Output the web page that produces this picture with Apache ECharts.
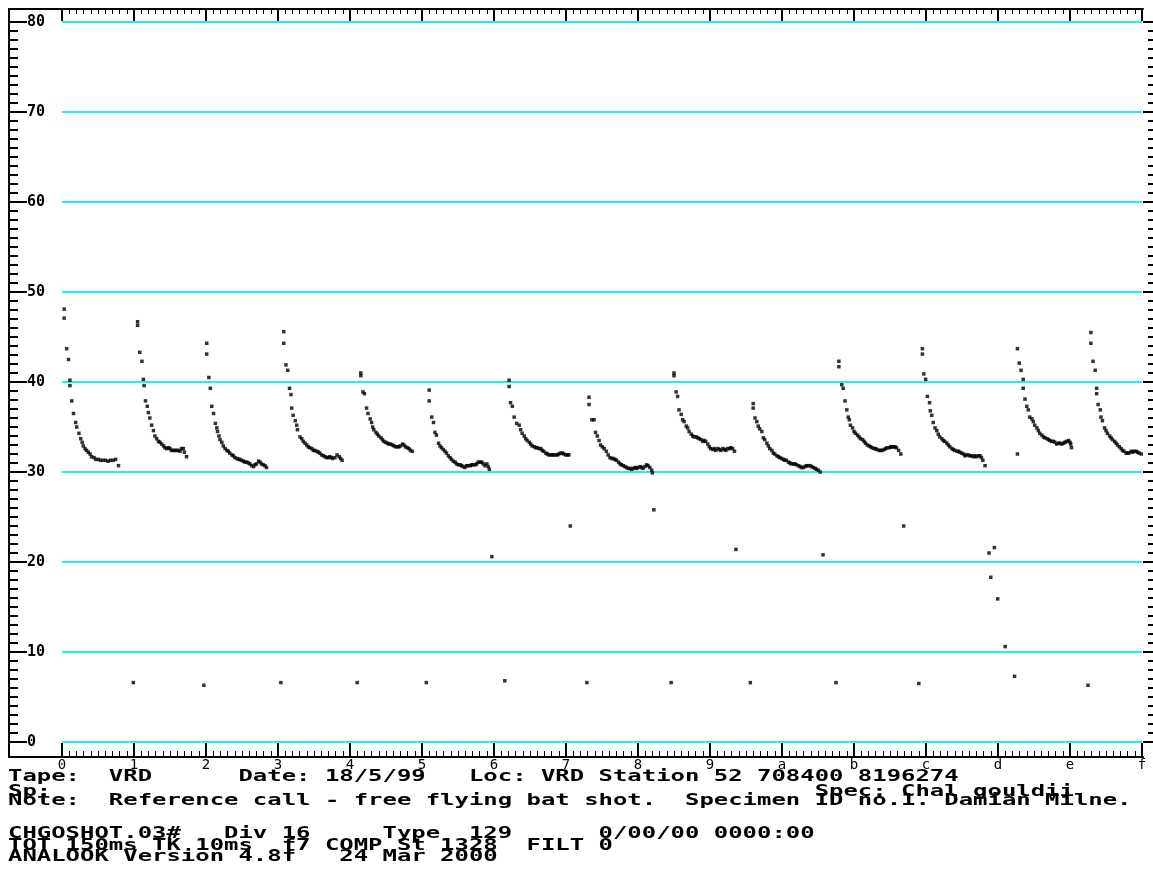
<!DOCTYPE html>
<html>
<head>
<meta charset="utf-8">
<title>ANALOOK - CHGOSHOT.03#</title>
<script src="https://cdn.jsdelivr.net/npm/echarts@6/dist/echarts.min.js"></script>
<style>
  html, body { margin: 0; padding: 0; background: #ffffff; }
  #chart { width: 1153px; height: 875px; }
</style>
</head>
<body>
<div id="chart"></div>
<script>
// Time ticks every 10 ms, labelled in hex (0..f); frequency ticks every 10 kHz.
const timeTickLabels = ['0','1','2','3','4','5','6','7','8','9','a','b','c','d','e','f'];
const freqTickLabels = ['0','10','20','30','40','50','60','70','80'];

// Call points: [time ms, frequency kHz]
const call01 = [[0.3,48.1],[0.3,47.1],[0.65,43.7],[0.9,42.5],[1.1,40.2],[1.1,39.6],[1.35,37.9],[1.6,36.5],[1.9,35.5],[2.05,35.0],[2.35,34.3],[2.6,33.7],[2.8,33.3],[2.95,32.9],[3.2,32.6],[3.4,32.4],[3.65,32.2],[3.9,32.0],[4.1,31.7],[4.45,31.6],[4.7,31.4],[5.05,31.4],[5.35,31.3],[5.7,31.3],[6.05,31.3],[6.4,31.2],[6.75,31.3],[7.1,31.3],[7.45,31.4],[7.85,30.7]];
const call02 = [[10.5,46.7],[10.5,46.3],[10.8,43.3],[11.1,42.3],[11.3,40.3],[11.4,39.6],[11.6,37.9],[11.85,37.3],[12.0,36.6],[12.2,36.0],[12.45,35.2],[12.7,34.6],[12.9,34.0],[13.15,33.7],[13.4,33.4],[13.6,33.3],[13.85,33.1],[14.1,32.9],[14.3,32.7],[14.55,32.6],[14.8,32.7],[15.0,32.6],[15.2,32.4],[15.45,32.4],[15.7,32.4],[15.9,32.4],[16.15,32.4],[16.4,32.3],[16.6,32.6],[16.85,32.6],[17.0,32.2],[17.3,31.7]];
const call03 = [[20.1,44.3],[20.1,43.1],[20.4,40.5],[20.6,39.3],[20.8,37.3],[21.05,36.5],[21.3,35.4],[21.5,34.9],[21.6,34.5],[21.8,34.0],[21.95,33.6],[22.2,33.3],[22.4,32.9],[22.65,32.6],[22.9,32.4],[23.1,32.3],[23.3,32.1],[23.6,31.9],[23.8,31.8],[24.0,31.6],[24.3,31.5],[24.5,31.4],[24.7,31.4],[24.95,31.3],[25.2,31.2],[25.4,31.1],[25.65,31.1],[25.9,31.0],[26.1,30.9],[26.35,30.7],[26.6,30.6],[26.8,30.8],[27.0,30.9],[27.3,31.2],[27.5,31.1],[27.7,30.9],[27.95,30.8],[28.2,30.7],[28.4,30.5]];
const call04 = [[30.8,45.6],[30.8,44.3],[31.1,41.9],[31.35,41.3],[31.6,39.3],[31.8,38.6],[31.9,37.1],[32.1,36.3],[32.4,35.7],[32.6,35.2],[32.7,34.7],[33.05,33.9],[33.3,33.7],[33.5,33.4],[33.75,33.2],[34.0,33.0],[34.2,32.8],[34.4,32.7],[34.7,32.6],[34.9,32.4],[35.1,32.4],[35.4,32.3],[35.6,32.2],[35.8,32.1],[36.05,31.9],[36.3,31.8],[36.55,31.7],[36.75,31.6],[37.0,31.6],[37.2,31.7],[37.4,31.6],[37.6,31.5],[37.9,31.6],[38.2,31.9],[38.5,31.7],[38.7,31.5],[38.9,31.3]];
const call05 = [[41.5,41.0],[41.5,40.7],[41.8,38.9],[42.0,38.7],[42.3,37.1],[42.5,36.5],[42.8,35.9],[43.0,35.5],[43.15,35.0],[43.3,34.7],[43.6,34.4],[43.8,34.2],[44.0,34.0],[44.3,33.8],[44.5,33.6],[44.7,33.4],[44.95,33.3],[45.2,33.2],[45.4,33.1],[45.65,33.1],[45.9,33.0],[46.1,32.9],[46.35,32.8],[46.6,32.8],[46.8,32.8],[47.0,32.9],[47.3,33.1],[47.5,33.0],[47.7,32.8],[47.95,32.7],[48.2,32.6],[48.4,32.4],[48.65,32.3]];
const call06 = [[51.0,39.1],[51.0,37.9],[51.35,36.1],[51.6,35.5],[51.8,34.4],[52.0,34.1],[52.3,33.2],[52.5,32.9],[52.7,32.7],[52.95,32.5],[53.2,32.3],[53.4,32.1],[53.65,31.8],[53.9,31.6],[54.1,31.4],[54.35,31.2],[54.6,31.1],[54.8,30.9],[55.05,30.8],[55.3,30.8],[55.5,30.7],[55.7,30.6],[55.95,30.5],[56.2,30.7],[56.4,30.7],[56.7,30.7],[56.9,30.8],[57.1,30.8],[57.4,30.8],[57.6,30.9],[57.8,31.1],[58.05,31.1],[58.3,31.1],[58.5,30.9],[58.75,30.7],[59.0,30.9],[59.2,30.6],[59.35,30.3]];
const call07 = [[62.1,40.2],[62.1,39.5],[62.3,37.7],[62.55,37.3],[62.8,36.1],[63.15,35.4],[63.5,35.2],[63.7,34.7],[63.9,34.3],[64.2,34.0],[64.4,33.7],[64.6,33.5],[64.9,33.3],[65.1,33.1],[65.3,32.9],[65.6,32.8],[65.8,32.7],[66.0,32.7],[66.25,32.6],[66.5,32.6],[66.7,32.4],[66.9,32.3],[67.2,32.1],[67.4,32.0],[67.6,31.9],[67.9,31.9],[68.1,31.9],[68.3,31.9],[68.6,31.9],[68.8,31.9],[69.0,32.0],[69.25,32.1],[69.5,32.1],[69.7,32.0],[69.95,31.9],[70.2,31.9],[70.4,31.9]];
const call08 = [[73.2,38.3],[73.2,37.5],[73.6,35.8],[73.9,35.8],[74.1,34.4],[74.35,34.0],[74.6,33.5],[74.8,33.0],[75.05,32.8],[75.3,32.6],[75.6,32.3],[75.85,31.9],[76.1,31.6],[76.35,31.5],[76.6,31.5],[76.8,31.4],[77.0,31.3],[77.3,31.1],[77.5,30.9],[77.7,30.8],[77.95,30.7],[78.2,30.6],[78.4,30.5],[78.65,30.4],[78.9,30.4],[79.1,30.3],[79.35,30.4],[79.6,30.5],[79.8,30.4],[80.0,30.5],[80.3,30.6],[80.5,30.5],[80.7,30.4],[80.95,30.6],[81.2,30.8],[81.4,30.7],[81.65,30.5],[81.9,30.2],[82.0,29.9]];
const call09 = [[85.0,41.0],[85.0,40.7],[85.3,38.9],[85.5,38.4],[85.7,36.9],[86.0,36.4],[86.2,35.8],[86.4,35.6],[86.7,35.1],[86.9,34.9],[87.1,34.5],[87.4,34.2],[87.6,34.0],[87.8,33.9],[88.1,33.9],[88.3,33.8],[88.5,33.7],[88.75,33.6],[89.0,33.4],[89.2,33.5],[89.4,33.4],[89.7,33.1],[89.9,32.8],[90.1,32.6],[90.4,32.5],[90.6,32.6],[90.8,32.4],[91.1,32.6],[91.3,32.5],[91.5,32.4],[91.8,32.6],[92.0,32.5],[92.2,32.4],[92.45,32.6],[92.7,32.6],[92.9,32.7],[93.15,32.6],[93.4,32.3]];
const call10 = [[96.0,37.6],[96.0,37.1],[96.25,36.0],[96.5,35.6],[96.7,35.1],[96.9,34.8],[97.2,34.5],[97.4,33.8],[97.6,33.6],[97.9,33.2],[98.1,32.9],[98.3,32.6],[98.6,32.4],[98.8,32.1],[99.0,32.0],[99.3,31.8],[99.5,31.7],[99.7,31.6],[99.95,31.5],[100.2,31.4],[100.4,31.3],[100.6,31.3],[100.9,31.1],[101.1,31.0],[101.3,30.9],[101.6,30.9],[101.8,30.9],[102.0,30.8],[102.3,30.7],[102.5,30.6],[102.7,30.5],[102.95,30.5],[103.2,30.6],[103.4,30.7],[103.65,30.7],[103.9,30.7],[104.1,30.6],[104.35,30.5],[104.6,30.4],[104.8,30.3],[105.05,30.2],[105.3,30.0]];
const call11 = [[107.9,42.3],[107.9,41.7],[108.3,39.7],[108.5,39.3],[108.75,37.9],[109.0,36.9],[109.2,36.1],[109.35,35.8],[109.5,35.2],[109.8,34.9],[110.0,34.5],[110.2,34.3],[110.5,34.1],[110.7,33.9],[110.9,33.7],[111.2,33.6],[111.4,33.4],[111.6,33.2],[111.85,33.0],[112.1,32.9],[112.3,32.8],[112.5,32.7],[112.8,32.6],[113.0,32.6],[113.2,32.5],[113.5,32.4],[113.7,32.4],[113.9,32.4],[114.2,32.5],[114.4,32.6],[114.6,32.7],[114.9,32.7],[115.1,32.8],[115.3,32.8],[115.5,32.8],[115.7,32.8],[115.9,32.7],[116.2,32.4],[116.5,32.0]];
const call12 = [[119.5,43.7],[119.5,43.1],[119.7,40.9],[119.95,40.3],[120.2,38.4],[120.5,37.7],[120.6,36.8],[120.8,36.3],[121.0,35.5],[121.25,34.9],[121.5,34.6],[121.7,34.2],[121.9,33.9],[122.2,33.7],[122.4,33.5],[122.6,33.4],[122.9,33.2],[123.1,33.0],[123.3,32.8],[123.6,32.6],[123.8,32.5],[124.0,32.4],[124.3,32.3],[124.5,32.3],[124.7,32.2],[124.95,32.1],[125.2,32.0],[125.4,31.8],[125.6,31.9],[125.9,31.9],[126.1,31.8],[126.3,31.8],[126.6,31.7],[126.8,31.8],[127.0,31.7],[127.3,31.8],[127.5,31.8],[127.7,31.6],[127.9,31.3],[128.2,30.7]];
const call13 = [[132.7,43.7],[132.95,42.1],[133.2,41.3],[133.5,40.3],[133.5,39.3],[133.75,38.1],[134.0,37.3],[134.2,36.9],[134.4,36.1],[134.7,35.9],[134.9,35.6],[135.1,35.2],[135.4,34.9],[135.6,34.6],[135.8,34.3],[136.1,34.1],[136.3,33.9],[136.5,33.8],[136.8,33.7],[137.0,33.6],[137.2,33.5],[137.45,33.4],[137.7,33.4],[137.9,33.3],[138.15,33.1],[138.4,33.2],[138.6,33.2],[138.85,33.1],[139.1,33.2],[139.3,33.3],[139.5,33.4],[139.8,33.5],[140.0,33.3],[140.1,33.1],[140.2,32.7]];
const call14 = [[142.9,45.5],[142.9,44.3],[143.2,42.3],[143.5,41.3],[143.7,39.3],[143.7,38.7],[143.9,37.5],[144.2,36.9],[144.3,36.1],[144.5,35.7],[144.8,34.9],[145.0,34.6],[145.2,34.3],[145.5,34.0],[145.7,33.8],[145.9,33.6],[146.2,33.4],[146.4,33.2],[146.6,33.0],[146.85,32.8],[147.1,32.6],[147.3,32.4],[147.5,32.3],[147.8,32.1],[148.0,32.1],[148.2,32.1],[148.5,32.3],[148.7,32.2],[148.9,32.3],[149.2,32.3],[149.4,32.2],[149.6,32.1],[149.9,32.0]];
// Isolated points outside the calls
const strayPoints = [[9.9,6.6],[19.7,6.3],[30.4,6.6],[41.0,6.6],[50.6,6.6],[59.7,20.6],[61.5,6.8],[70.6,24.0],[72.9,6.6],[82.2,25.8],[84.6,6.6],[93.6,21.4],[95.6,6.6],[105.7,20.8],[107.5,6.6],[116.9,24.0],[119.0,6.5],[128.75,21.0],[129.0,18.3],[129.5,21.6],[129.96,15.9],[131.0,10.6],[132.3,7.3],[132.7,32.0],[142.5,6.3]];

const calls = [call01, call02, call03, call04, call05, call06, call07, call08, call09, call10, call11, call12, call13, call14, strayPoints];

// Header block printed under the plot
const infoLines = [
  'Tape:  VRD      Date: 18/5/99   Loc: VRD Station 52 708400 8196274',
  'Sp:'.padEnd(56) + 'Spec: Chal gouldii',
  'Note:  Reference call - free flying bat shot.  Specimen ID no.1. Damian Milne.',
  'CHGOSHOT.03#   Div 16     Type  129      0/00/00 0000:00',
  'TOT 150ms TK 10ms  f7 COMP St 1328  FILT 0',
  'ANALOOK Version 4.8f   24 Mar 2000'
];

// ---- layout ----
const W = 1153, H = 875;
const FRAME = { left: 9, top: 9, right: 10, bottom: 118 };
const PLOT = { left: 62, top: 22, right: 11, bottom: 133 };
const T_MAX = 150, F_MAX = 80;
const msPerPx = T_MAX / (W - PLOT.left - PLOT.right);
const khzPerPx = F_MAX / (H - PLOT.top - PLOT.bottom);
const frameTMin = -(PLOT.left - FRAME.left) * msPerPx;
const frameTMax = T_MAX + (PLOT.right - FRAME.right) * msPerPx;
const frameFMin = -(PLOT.bottom - FRAME.bottom) * khzPerPx;
const frameFMax = F_MAX + (PLOT.top - FRAME.top) * khzPerPx;

const range = (a, b, s) => { const r = []; for (let v = a; v <= b + 1e-9; v += s) r.push(Math.round(v * 1000) / 1000); return r; };
const majorT = range(0, T_MAX, 10), minorT = range(0, T_MAX, 1);
const majorF = range(0, F_MAX, 10), minorF = range(0, F_MAX, 1);

const MONO = '"DejaVu Sans Mono", "Liberation Mono", monospace';
const INK = '#000000';
const GRID_CYAN = '#22eef4';

function frameX(extra) {
  return Object.assign({
    type: 'value', gridIndex: 0, min: frameTMin, max: frameTMax,
    axisLine: { show: false, onZero: false },
    axisLabel: { show: false },
    splitLine: { show: false }
  }, extra);
}
function frameY(extra) {
  return Object.assign({
    type: 'value', gridIndex: 0, min: frameFMin, max: frameFMax,
    axisLine: { show: false, onZero: false },
    axisLabel: { show: false },
    splitLine: { show: false }
  }, extra);
}

const option = {
  backgroundColor: '#ffffff',
  animation: false,
  grid: [
    { left: FRAME.left, top: FRAME.top, right: FRAME.right, bottom: FRAME.bottom, containLabel: false },
    { left: PLOT.left, top: PLOT.top, right: PLOT.right, bottom: PLOT.bottom, containLabel: false }
  ],
  xAxis: [
    // bottom ruler with hex labels
    frameX({
      position: 'bottom',
      axisLine: { show: true, onZero: false, lineStyle: { color: INK, width: 2 } },
      axisTick: { show: true, inside: true, length: 14, customValues: majorT, lineStyle: { color: INK, width: 2 } },
      axisLabel: {
        show: true, customValues: majorT, margin: 1, color: INK,
        fontFamily: MONO, fontSize: 14,
        formatter: v => timeTickLabels[Math.round(v / 10)]
      }
    }),
    frameX({
      position: 'bottom',
      axisTick: { show: true, inside: true, length: 6, customValues: minorT, lineStyle: { color: INK, width: 1 } }
    }),
    // top ruler
    frameX({
      position: 'top',
      axisLine: { show: true, onZero: false, lineStyle: { color: INK, width: 2 } },
      axisTick: { show: true, inside: true, length: 12, customValues: majorT, lineStyle: { color: INK, width: 2 } }
    }),
    frameX({
      position: 'top',
      axisTick: { show: true, inside: true, length: 5, customValues: minorT, lineStyle: { color: INK, width: 1 } }
    }),
    // data axis
    { type: 'value', gridIndex: 1, min: 0, max: T_MAX, show: false }
  ],
  yAxis: [
    // left scale with kHz labels
    frameY({
      position: 'left',
      axisLine: { show: true, onZero: false, lineStyle: { color: INK, width: 2 } },
      axisTick: { show: true, inside: true, length: 18, customValues: majorF, lineStyle: { color: INK, width: 2 } },
      axisLabel: {
        show: true, inside: true, customValues: majorF, margin: 18, color: INK,
        fontFamily: MONO, fontSize: 15, fontWeight: 'bold',
        formatter: v => freqTickLabels[Math.round(v / 10)]
      }
    }),
    frameY({
      position: 'left',
      axisTick: { show: true, inside: true, length: 9, customValues: minorF, lineStyle: { color: INK, width: 2 } }
    }),
    // right scale, ticks only
    frameY({
      position: 'right',
      axisTick: { show: true, inside: false, length: 10, customValues: majorF, lineStyle: { color: INK, width: 2 } }
    }),
    frameY({
      position: 'right', offset: 5,
      axisTick: { show: true, inside: false, length: 5, customValues: minorF, lineStyle: { color: INK, width: 2 } }
    }),
    // data axis with cyan 10 kHz lines
    {
      type: 'value', gridIndex: 1, min: 0, max: F_MAX, interval: 10,
      axisLine: { show: false, onZero: false },
      axisTick: { show: false },
      axisLabel: { show: false },
      splitLine: { show: true, lineStyle: { color: GRID_CYAN, width: 2 } }
    }
  ],
  series: calls.map((pts, i) => ({
    type: 'scatter',
    name: 'call' + (i + 1),
    xAxisIndex: 4,
    yAxisIndex: 4,
    data: pts,
    symbol: 'rect',
    symbolSize: 3.5,
    clip: false,
    silent: true,
    itemStyle: { color: INK }
  })),
  graphic: infoLines.map((line, i) => ({
    type: 'text',
    x: 8,
    y: [777.5, 792, 801, 834.5, 846, 857.5][i],
    scaleX: 1.595,
    silent: true,
    style: {
      text: line,
      x: 0, y: 0,
      fill: INK,
      font: 'bold 15px ' + MONO,
      align: 'left', verticalAlign: 'middle',
      textAlign: 'left', textVerticalAlign: 'middle'
    }
  }))
};

const chart = echarts.init(document.getElementById('chart'), null, { renderer: 'canvas' });
chart.setOption(option);
</script>
</body>
</html>
